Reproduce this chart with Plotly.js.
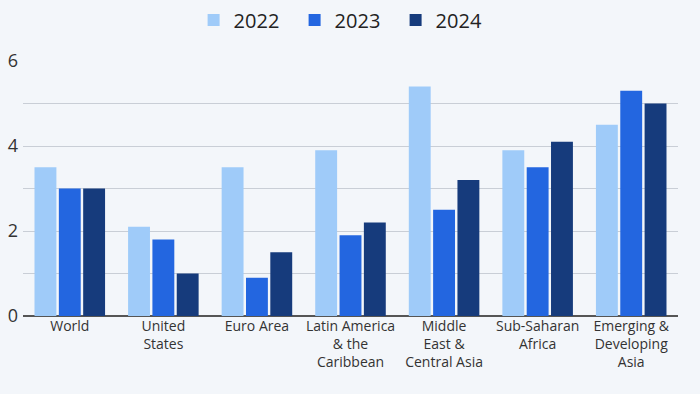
<!DOCTYPE html>
<html><head><meta charset="utf-8">
<script src="https://cdn.plot.ly/plotly-3.0.1.min.js"></script>
<style>html,body{margin:0;padding:0;background:#f3f6fa;}#chart{width:700px;height:394px;}</style>
</head><body><div id="chart"></div>
<script>
const categories = ["World", "United<br>States", "Euro Area", "Latin America<br>& the<br>Caribbean", "Middle<br>East &<br>Central Asia", "Sub-Saharan<br>Africa", "Emerging &<br>Developing<br>Asia"];
const seriesNames = ["2022", "2023", "2024"];
const values2022 = [3.5, 2.1, 3.5, 3.9, 5.4, 3.9, 4.5];
const values2023 = [3.0, 1.8, 0.9, 1.9, 2.5, 3.5, 5.3];
const values2024 = [3.0, 1.0, 1.5, 2.2, 3.2, 4.1, 5.0];
const colors = ["#9fcbf9", "#2366e0", "#163b7c"];
const yTicks = [0, 1, 2, 3, 4, 5, 6];
const yTickText = ["0", "", "2", "", "4", "", "6"];

const data = [values2022, values2023, values2024].map((v, i) => ({
  type: "bar", x: categories, y: v, name: seriesNames[i],
  marker: {color: colors[i]}, hoverinfo: "y"
}));

const layout = {
  width: 700, height: 394,
  paper_bgcolor: "#f3f6fa", plot_bgcolor: "#f3f6fa",
  margin: {l: 23, r: 22, t: 61, b: 78},
  font: {family: "Open Sans, sans-serif", color: "#333"},
  barmode: "group", bargap: 0.22, bargroupgap: 0.1,
  showlegend: true,
  legend: {orientation: "h", x: 0.493, xanchor: "center", xref: "container", y: 0.949, yanchor: "middle", yref: "container",
           font: {size: 20, color: "#222"}, traceorder: "normal", bgcolor: "rgba(0,0,0,0)",
           entrywidth: 56, entrywidthmode: "pixels"},
  xaxis: {tickfont: {size: 14, color: "#333"}, showgrid: false, ticks: "", automargin: false},
  yaxis: {range: [0, 6], tickvals: yTicks, ticktext: yTickText, tickfont: {size: 18, color: "#333"},
          gridcolor: "#c9ced6", gridwidth: 1, zeroline: true, zerolinecolor: "#555", zerolinewidth: 1.5,
          ticks: "", automargin: false, ticklabelstandoff: 4}
};
Plotly.newPlot("chart", data, layout, {displayModeBar: false});
</script></body></html>
